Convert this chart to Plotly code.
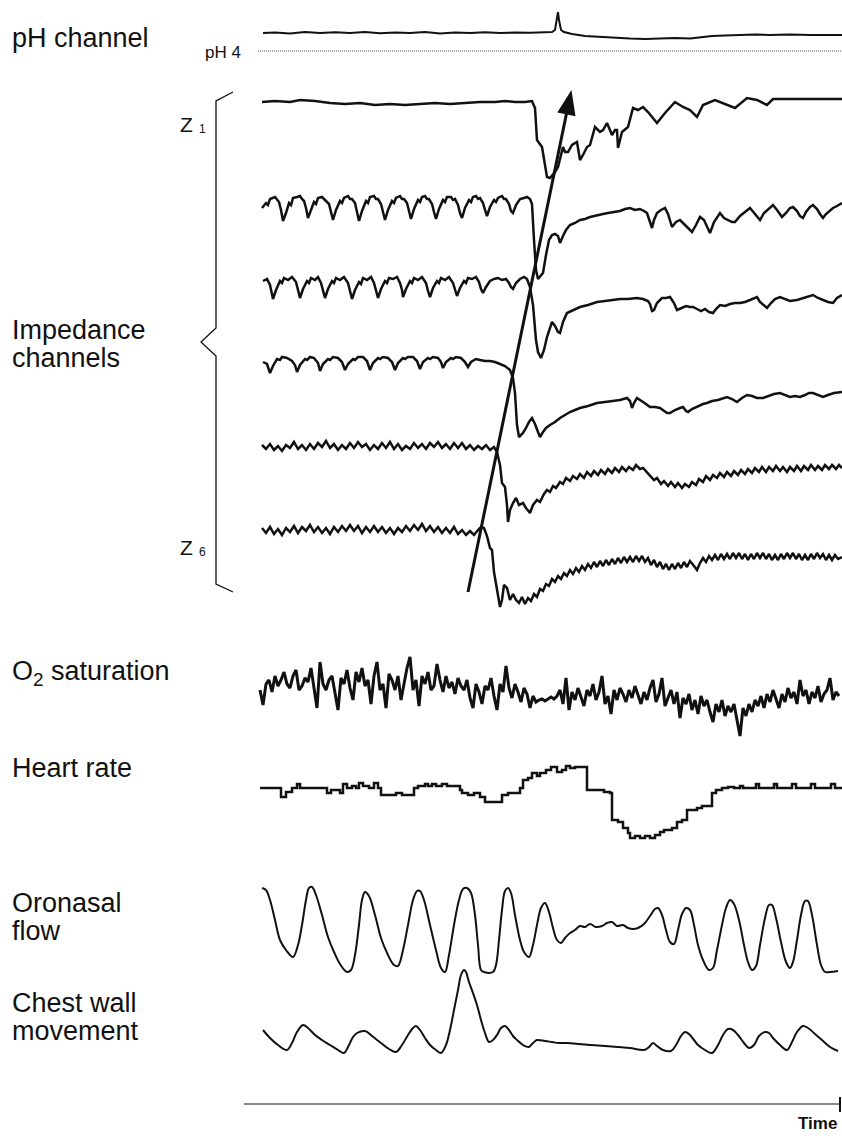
import plotly.graph_objects as go

# ---------------- data (time in sample units, level in display units) ----------------
ph_trace = [(263,33),(275,32.5),(290,33.5),(305,32),(320,33),(335,32.2),(350,33),(365,32),(380,33.2),(395,32.5),
            (410,33),(425,32),(440,33.5),(455,32.5),(470,33),(485,32.2),(500,33),(515,32.5),(530,32.8),(545,32.5),
            (552,32),(555,30),(557,20),(558,12),(559,20),(561,30),(564,32),(572,34),(585,36),(600,37),(615,38),
            (630,38.5),(645,39),(660,38.5),(675,38),(690,38.5),(700,37.5),(712,36),(725,35.5),(740,35),(755,34.5),
            (770,35),(790,34.5),(810,35),(825,34.8),(842,35)]
ph4_level = 51

z1 = [(262,102),(275,101),(290,102),(300,100),(315,101),(330,103),(345,104),(360,103),(375,105),(390,104),
      (405,105),(420,104),(435,103),(450,104),(465,103),(480,102),(495,102),(505,101),(515,102),(525,102),
      (532,101),(535,108),(537,140),(542,147),(547,177),(550,178),(555,172),(558,167),(563,147),(565,152),
      (568,152),(572,145),(577,142),(580,160),(583,155),(587,147),(590,145),(595,127),(600,132),(603,130),
      (607,123),(612,135),(615,130),(617,130),(618,148),(620,140),(622,132),(628,127),(633,108),(638,110),
      (643,107),(648,112),(657,123),(665,113),(675,102),(683,107),(690,110),(697,117),(703,105),(715,100),
      (727,105),(735,108),(747,98),(757,100),(767,105),(773,99),(780,99),(842,99)]

z2 = [(262,208),(266,203),(268,205),(270,199),(275,197),(277,200),(279,202),(281,210),(283,221),(286,213),(289,203),
      (291,205),(293,198),(297,197),(300,196),(302,199),(304,201),(306,208),(308,218),(311,210),(314,202),(316,204),
      (318,198),(322,197),(324,199),(326,200),(329,204),(331,212),(333,220),(336,210),(340,201),(342,203),(344,198),
      (348,196),(350,199),(352,199),(355,203),(357,212),(359,221),(362,211),(366,201),(368,203),(370,197),(374,196),
      (376,199),(378,199),(381,204),(383,212),(385,220),(388,210),(392,201),(394,203),(396,198),(400,196),(402,199),
      (404,199),(407,203),(409,211),(411,219),(414,209),(418,200),(420,202),(422,197),(425,196),(427,199),(429,199),
      (432,204),(434,212),(436,219),(439,209),(443,200),(445,202),(447,197),(451,197),(453,200),(455,199),(458,205),
      (460,213),(462,218),(465,208),(469,200),(471,202),(473,197),(476,196),(478,199),(480,198),(483,203),(485,210),
      (487,216),(490,207),(494,200),(496,202),(498,198),(502,196),(504,199),(506,199),(509,204),(511,211),(513,213),
      (516,205),(520,199),(524,198),(527,197),(530,199),(532,204),(534,240),(536,270),(538,279),(540,277),(543,273),
      (546,255),(549,240),(552,235),(555,234),(558,236),(560,243),(563,236),(566,230),(570,225),(575,223),
      (580,220),(585,219),(590,217),(597,215),(603,214),(608,213),(613,212),(620,211),(625,209),(630,208),
      (635,210),(640,209),(644,211),(647,213),(650,222),(652,228),(654,220),(657,213),(661,210),(665,208),
      (668,214),(672,227),(676,222),(680,220),(684,224),(688,228),(692,232),(696,225),(700,217),(704,220),
      (707,226),(710,233),(714,222),(718,215),(720,213),(724,218),(728,220),(732,222),(735,222),(740,216),
      (745,212),(750,208),(755,214),(760,220),(764,213),(768,209),(773,205),(777,210),(782,217),(786,213),
      (790,208),(793,207),(797,211),(800,216),(803,218),(806,212),(810,207),(813,205),(817,209),(820,214),
      (823,218),(826,214),(830,210),(833,208),(837,206),(842,203)]

z3 = [(263,281),(267,279),(270,285),(273,299),(276,290),(280,281),(282,283),(284,278),(288,280),(292,277),(296,282),
      (298,290),(300,298),(303,289),(307,281),(309,283),(311,278),(315,280),(318,277),(321,283),(323,291),(325,298),
      (328,289),(332,281),(334,283),(336,278),(340,280),(344,277),(348,283),(350,291),(352,299),(355,290),(359,282),
      (361,284),(363,278),(367,280),(371,277),(374,283),(376,291),(378,298),(381,289),(385,281),(387,283),(389,278),
      (393,279),(397,277),(400,283),(402,290),(403,297),(406,289),(410,281),(412,283),(414,278),(418,280),(422,277),
      (426,283),(428,291),(430,297),(433,288),(437,281),(439,283),(441,278),(445,280),(449,277),(453,283),(455,290),
      (457,296),(460,288),(464,281),(466,283),(468,278),(472,279),(476,277),(479,282),(481,289),(483,293),(486,287),
      (490,281),(494,279),(498,278),(502,280),(506,279),(509,283),(511,287),(513,289),(516,283),(520,279),(524,277),
      (527,279),(530,287),(533,305),(536,340),(538,352),(541,358),(544,350),(547,337),(550,328),(552,322),
      (555,326),(558,332),(560,333),(563,322),(567,313),(572,311),(580,307),(588,305),(597,302),(605,301),
      (613,300),(620,299),(628,299),(637,298),(643,299),(648,301),(650,304),(652,311),(654,310),(657,303),
      (662,298),(666,298),(670,297),(674,303),(677,310),(681,308),(686,306),(690,307),(693,307),(697,309),
      (701,311),(705,309),(709,312),(713,313),(716,309),(720,305),(725,306),(730,304),(735,303),(740,303),
      (745,302),(750,300),(754,298),(757,297),(760,302),(764,306),(767,308),(771,303),(775,299),(780,297),
      (785,299),(790,301),(797,300),(803,298),(808,296),(813,295),(818,298),(823,300),(828,302),(833,303),
      (837,298),(842,295)]

z4 = [(263,362),(267,364),(270,373),(273,366),(277,359),(280,360),(282,357),(287,358),(292,361),(295,365),(297,372),
      (300,365),(305,359),(307,360),(310,357),(314,358),(318,363),(320,371),(323,364),(328,359),(330,360),(333,357),
      (338,358),(342,362),(345,370),(348,364),(353,359),(355,360),(358,357),(363,357),(367,361),(370,370),(373,363),
      (378,358),(380,359),(383,357),(388,358),(392,362),(395,370),(398,363),(403,358),(405,359),(408,357),(413,357),
      (417,361),(420,369),(423,362),(428,358),(430,359),(433,357),(438,358),(441,362),(443,368),(446,362),(451,358),
      (453,359),(456,357),(461,358),(465,362),(468,367),(471,362),(476,359),(480,360),(485,361),(490,361),(495,362),
      (500,364),(505,366),
      (510,370),(513,378),(515,393),(517,425),(519,437),(521,435),(523,433),(526,428),(529,422),(532,418),
      (535,424),(538,432),(540,437),(543,432),(546,428),(550,425),(555,422),(560,418),(565,415),(570,412),
      (575,410),(580,408),(588,406),(597,403),(605,402),(612,401),(620,400),(627,398),(630,401),(632,408),
      (634,403),(637,398),(642,401),(646,404),(650,407),(655,407),(660,408),(664,411),(667,413),(670,413),
      (675,410),(680,408),(683,407),(686,411),(688,412),(692,409),(698,406),(703,404),(707,403),(712,401),
      (718,400),(723,398),(727,397),(732,399),(737,402),(742,398),(747,395),(752,396),(757,398),(763,398),
      (768,396),(774,394),(780,393),(785,395),(790,397),(795,396),(800,397),(805,395),(809,393),(813,393),
      (818,395),(823,397),(828,395),(834,393),(842,392)]

z5 = [(262,445),(266,449),(270,444),(274,450),(278,446),(282,451),(286,445),(290,448),(294,442),(298,449),
      (302,445),(306,450),(310,444),(314,449),(318,443),(322,447),(326,441),(330,448),(334,444),(338,450),
      (342,445),(346,449),(350,443),(354,448),(358,442),(362,447),(366,444),(370,450),(374,445),(378,449),
      (382,443),(386,448),(390,442),(394,449),(398,444),(402,450),(406,446),(410,449),(414,443),(418,448),
      (422,444),(426,449),(430,443),(434,447),(438,442),(442,448),(446,444),(450,449),(454,443),(458,448),
      (462,443),(466,449),(470,445),(474,450),(478,446),(482,449),(486,445),(490,450),(494,447),(497,452),
      (500,465),(502,483),(505,487),(507,505),(508,522),(510,510),(513,503),(516,498),(519,505),(523,503),
      (526,508),(530,513),(533,505),(537,500),(540,502),(544,494),(547,490),(550,492),(553,486),(556,488),
      (560,482),(563,484),(566,478),(570,481),(573,476),(577,479),(580,474),(584,478),(587,472),(591,476),
      (594,471),(598,475),(601,470),(605,474),(608,469),(612,473),(615,468),(619,472),(622,467),(626,471),
      (629,467),(633,470),(636,465),(640,469),(643,468),(647,472),(650,476),(654,480),(657,478),(661,484),
      (664,481),(668,486),(671,482),(675,487),(678,483),(682,488),(685,484),(689,487),(692,482),(696,485),
      (699,479),(703,482),(706,476),(710,480),(713,475),(717,478),(720,473),(724,477),(727,472),(731,476),
      (734,471),(738,475),(741,470),(745,474),(748,469),(752,473),(755,468),(759,472),(762,467),(766,472),
      (769,467),(773,471),(776,466),(780,471),(783,467),(787,472),(790,467),(794,471),(797,466),(801,471),
      (804,466),(808,470),(811,465),(815,470),(818,466),(822,470),(825,465),(829,469),(832,465),(836,469),
      (839,465),(842,468)]

z6 = [(262,528),(266,533),(270,527),(274,534),(278,529),(282,535),(286,528),(290,532),(294,526),(298,533),
      (302,527),(306,531),(310,525),(314,532),(318,527),(322,533),(326,528),(330,534),(334,527),(338,532),
      (342,526),(346,531),(350,525),(354,531),(358,526),(362,533),(366,527),(370,532),(374,526),(378,532),
      (382,527),(386,533),(390,528),(394,534),(398,528),(402,532),(406,526),(410,531),(414,525),(418,530),
      (422,524),(426,531),(430,526),(434,532),(438,527),(442,533),(446,528),(450,533),(454,527),(458,534),
      (462,530),(466,535),(470,531),(474,535),(478,530),(481,527),(484,528),(487,536),(490,548),(492,550),
      (494,572),(496,585),(498,595),(500,607),(502,600),(504,585),(507,588),(510,600),(513,594),(516,600),
      (519,603),(522,597),(525,604),(528,598),(531,601),(534,594),(537,597),(540,589),(543,591),(546,584),
      (549,586),(552,579),(555,582),(558,576),(561,579),(564,573),(567,576),(570,570),(573,574),(576,568),
      (579,572),(582,566),(585,570),(588,564),(591,568),(594,562),(597,567),(600,561),(603,566),(606,560),
      (609,565),(612,559),(615,564),(618,558),(621,563),(624,557),(627,562),(630,557),(633,562),(636,556),
      (639,561),(642,556),(645,562),(648,558),(651,565),(654,560),(657,567),(660,562),(663,569),(666,564),
      (669,570),(672,564),(675,569),(678,563),(681,568),(684,562),(687,567),(690,561),(694,566),(697,570),
      (700,563),(703,558),(706,562),(709,556),(712,560),(715,555),(718,560),(721,554),(724,559),(727,554),
      (730,559),(733,553),(736,558),(739,553),(742,559),(745,554),(748,560),(751,554),(754,559),(757,553),
      (760,558),(763,553),(766,559),(769,554),(772,560),(775,555),(778,560),(781,554),(784,559),(787,553),
      (790,558),(793,553),(796,559),(799,554),(802,560),(805,555),(808,560),(811,554),(814,559),(817,553),
      (820,558),(823,554),(826,560),(829,555),(832,560),(835,555),(838,559),(842,557)]

o2_start, o2_step = 260, 3
o2_values = [690,705,684,680,692,676,686,680,672,684,688,676,670,690,686,678,682,668,688,708,
             662,684,690,680,676,694,710,678,684,670,688,700,672,682,668,686,680,704,676,662,
             690,684,708,674,680,690,676,700,684,668,657,690,680,706,676,684,672,690,686,664,
             680,692,676,688,682,694,678,686,690,680,698,708,684,692,704,686,690,678,696,710,
             684,692,666,688,698,684,692,702,688,694,708,696,702,700,699,701,699,697,699,696,
             690,704,678,710,692,700,688,698,706,690,696,684,700,692,676,704,696,714,690,700,
             688,694,702,690,698,686,696,704,692,700,688,680,702,694,678,706,698,690,704,692,
             718,698,704,694,710,700,714,696,706,700,712,722,704,712,700,716,706,712,704,720,
             736,708,716,704,712,700,706,696,708,694,702,690,700,708,694,702,688,698,692,704,
             680,696,690,704,692,698,686,702,694,690,678,700,692,696]

heart_rate = [(260,788),(281,797),(286,792),(292,788),(297,784),(300,788),(323,788),(327,793),(331,790),(340,793),
              (343,784),(347,788),(352,786),(356,788),(359,783),(363,786),(369,788),(374,783),(378,788),(381,795),
              (390,795),(396,793),(402,795),(410,795),(414,788),(418,786),(425,784),(428,786),(432,784),(436,786),
              (442,784),(447,786),(455,786),(460,790),(462,793),(468,795),(474,793),(480,797),(485,802),(500,802),
              (502,795),(508,793),(515,793),(520,788),(523,780),(528,778),(532,773),(537,776),(540,773),(546,770),
              (551,767),(557,772),(562,770),(566,766),(570,768),(575,767),(583,767),(587,790),(598,790),(604,792),
              (610,793),(612,820),(618,822),(623,828),(628,833),(630,838),(635,836),(640,838),(645,836),(650,838),
              (655,835),(660,832),(664,830),(672,828),(677,822),(682,820),(687,810),(697,808),(702,806),(712,793),
              (716,790),(722,788),(728,787),(734,788),(740,786),(743,788),(752,788),(756,784),(759,788),(770,788),
              (774,784),(777,788),(789,788),(792,784),(796,788),(808,788),(811,784),(815,788),(828,788),(831,784),
              (835,788),(842,788)]

oronasal = [(262,888),(266,890),(270,900),(275,920),(280,940),(286,950),(293,957),(298,945),(302,925),(306,900),
            (309,888),(312,887),(316,895),(322,915),(328,937),(334,952),(340,964),(347,972),(351,970),(355,955),
            (359,925),(362,900),(365,892),(369,896),(375,915),(381,938),(388,955),(394,965),(398,966),(403,950),
            (408,925),(413,900),(417,891),(420,891),(424,900),(430,925),(436,950),(441,968),(445,972),(449,955),
            (454,925),(459,900),(463,889),(467,888),(471,893),(475,915),(478,945),(481,970),(484,972),(493,972),
            (496,965),(499,940),(502,910),(505,891),(508,888),(511,893),(515,915),(520,940),(524,952),(529,957),
            (533,945),(537,925),(541,908),(545,903),(549,912),(553,928),(557,940),(561,943),(565,938),(570,933),
            (575,930),(580,926),(585,927),(590,924),(596,927),(602,926),(607,923),(612,922),(617,926),(623,925),
            (628,928),(633,929),(638,928),(644,924),(650,916),(655,909),(658,908),(662,915),(666,930),(670,942),
            (674,944),(678,930),(682,914),(686,908),(690,910),(694,925),(698,945),(703,960),(709,970),(713,968),
            (717,950),(722,925),(726,908),(730,900),(734,904),(739,920),(744,945),(748,962),(752,970),(756,966),
            (760,945),(765,918),(769,905),(772,905),(776,918),(781,942),(786,962),(790,968),(793,962),(797,940),
            (801,915),(805,901),(808,901),(812,915),(817,945),(821,965),(825,972),(830,972),(838,971)]

chest_wall = [(263,1030),(270,1038),(278,1045),(287,1050),(292,1043),(297,1032),(303,1025),(308,1028),(315,1035),
              (322,1040),(330,1045),(338,1050),(344,1053),(349,1045),(353,1037),(357,1033),(365,1031),(372,1036),
              (381,1043),(389,1049),(396,1052),(402,1045),(408,1035),(413,1028),(416,1026),(420,1030),(425,1038),
              (430,1045),(436,1050),(441,1053),(446,1045),(450,1030),(454,1010),(458,990),(461,975),(464,970),
              (466,972),(469,982),(473,993),(477,1005),(481,1020),(485,1033),(489,1042),(493,1040),(497,1035),
              (501,1028),(505,1026),(509,1030),(513,1036),(517,1040),(523,1045),(529,1047),(533,1043),(537,1040),
              (545,1041),(552,1042),(559,1043),(568,1043),(578,1044),(591,1045),(605,1046),(618,1047),(630,1048),
              (644,1050),(649,1047),(653,1043),(657,1046),(663,1050),(671,1051),(676,1045),(681,1036),(685,1032),
              (689,1034),(694,1040),(698,1045),(705,1050),(712,1053),(718,1045),(723,1035),(728,1029),(733,1030),
              (738,1035),(744,1043),(749,1048),(754,1045),(759,1036),(765,1032),(769,1033),(773,1038),(780,1045),
              (787,1050),(792,1042),(797,1032),(803,1026),(808,1028),(815,1034),(822,1040),(830,1047),(838,1051)]

label_lines = ["pH channel", "Impedance", "channels", "O<sub>2</sub> saturation", "Heart rate",
               "Oronasal", "flow", "Chest wall", "movement"]

# ---------------- figure ----------------
W, H = 842, 1136
FONT = "Liberation Sans, Arial, Helvetica, sans-serif"
fig = go.Figure()


def add_line(pairs, width=2.2, shape="linear", color="#111"):
    xs = [p[0] for p in pairs]
    ys = [p[1] for p in pairs]
    fig.add_trace(go.Scatter(x=xs, y=ys, mode="lines", line=dict(color=color, width=width, shape=shape),
                             hoverinfo="skip", showlegend=False))


add_line(ph_trace, width=2.0)
fig.add_trace(go.Scatter(x=[258, 842], y=[ph4_level, ph4_level], mode="lines",
                         line=dict(color="#555", width=1, dash="1px,1px"), showlegend=False, hoverinfo="skip"))
for z in (z1, z2, z3, z4, z5, z6):
    add_line(z, width=2.5)
o2_x = [o2_start + i * o2_step for i in range(len(o2_values))]
fig.add_trace(go.Scatter(x=o2_x, y=o2_values, mode="lines", line=dict(color="#111", width=3),
                         showlegend=False, hoverinfo="skip"))
add_line(heart_rate, width=2.5, shape="hv")
add_line(oronasal, width=2.0, shape="spline")
add_line(chest_wall, width=2.0, shape="spline")

# arrow across the impedance channels (shaft + filled head)
fig.add_shape(type="line", x0=468, y0=592, x1=566.5, y1=113.5, xref="x", yref="y",
              line=dict(color="#111", width=3))
fig.add_shape(type="path", path="M 571 92 L 574.6 115.2 L 558.5 111.9 Z", xref="x", yref="y",
              line=dict(color="#111", width=1.5), fillcolor="#111")

# bracket for impedance channels
fig.add_shape(type="path", path="M 233 92 L 216 101 L 216 328 L 201 342 L 216 356 L 216 584 L 233 592",
              xref="x", yref="y", line=dict(color="#111", width=1.3))

# time axis
fig.add_shape(type="line", x0=244, x1=840, y0=1104, y1=1104, xref="x", yref="y",
              line=dict(color="#888", width=2))
fig.add_shape(type="line", x0=840, x1=840, y0=1097, y1=1112, xref="x", yref="y",
              line=dict(color="#111", width=2))
fig.add_annotation(x=839, y=1123, text="<b>Time</b>", showarrow=False, xanchor="right", yanchor="middle",
                   font=dict(family=FONT, size=17, color="#111"))

# labels
label_y = [38, 330, 358, 673, 768, 903, 931, 1003, 1031]
for txt, ly in zip(label_lines, label_y):
    fig.add_annotation(x=10, y=ly, text=txt, showarrow=False, xanchor="left", yanchor="middle", align="left",
                       font=dict(family=FONT, size=27, color="#111"))

fig.add_annotation(x=243, y=52, text="pH 4", showarrow=False, xanchor="right", yanchor="middle",
                   font=dict(family=FONT, size=17, color="#111"))
for zy, sub in ((124, "1"), (547, "6")):
    fig.add_annotation(x=178, y=zy, text="Z", showarrow=False, xanchor="left", yanchor="middle",
                       font=dict(family=FONT, size=21, color="#111"))
    fig.add_annotation(x=197, y=zy + 5, text=sub, showarrow=False, xanchor="left", yanchor="middle",
                       font=dict(family=FONT, size=12, color="#111"))

fig.update_layout(width=W, height=H, margin=dict(l=0, r=0, t=0, b=0), paper_bgcolor="white",
                  plot_bgcolor="white", showlegend=False,
                  xaxis=dict(range=[0, W], visible=False, fixedrange=True),
                  yaxis=dict(range=[H, 0], visible=False, fixedrange=True))
fig.write_html("out.html", config={"displayModeBar": False},
               post_script="document.body.style.margin='0px';document.body.style.overflow='hidden';")
